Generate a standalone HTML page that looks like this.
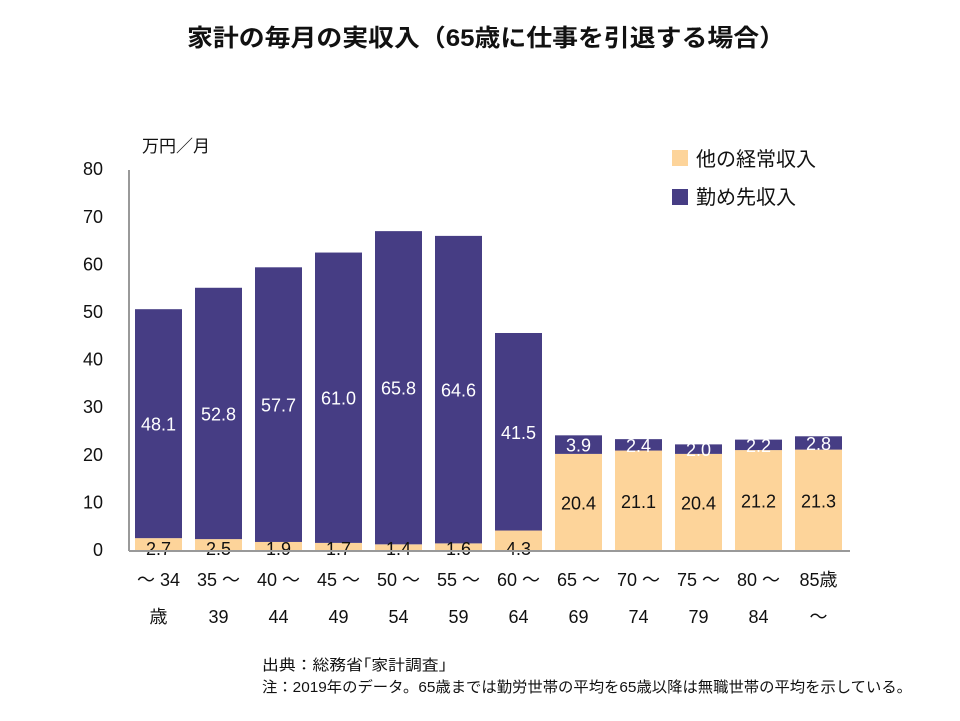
<!DOCTYPE html>
<html><head><meta charset="utf-8"><style>
body{margin:0;background:#fff;width:960px;height:721px;overflow:hidden;font-family:"Liberation Sans","Noto Sans CJK JP",sans-serif}
</style></head><body>
<svg width="960" height="721" style="position:absolute;left:0;top:0">
<text x="187" y="46" textLength="598" lengthAdjust="spacingAndGlyphs" font-size="24" font-weight="bold" fill="#111" font-family="Liberation Sans,Noto Sans CJK JP,sans-serif">家計の毎月の実収入（65歳に仕事を引退する場合）</text>
<text x="142" y="152" font-size="17" fill="#111" font-family="Liberation Sans,Noto Sans CJK JP,sans-serif">万円／月</text>
<rect x="672" y="150" width="16" height="16" fill="#fdd49a"/>
<text x="696" y="166" font-size="20" fill="#111" font-family="Liberation Sans,Noto Sans CJK JP,sans-serif">他の経常収入</text>
<rect x="672" y="189" width="16" height="16" fill="#463d84"/>
<text x="696" y="204" font-size="20" fill="#111" font-family="Liberation Sans,Noto Sans CJK JP,sans-serif">勤め先収入</text>
<g id="ticks"></g><g id="bars"></g><g id="xl"></g>
<line x1="129" y1="170" x2="129" y2="551" stroke="#999" stroke-width="2"/>
<line x1="129" y1="551" x2="850" y2="551" stroke="#999" stroke-width="2"/>
<text x="262" y="670" textLength="185" lengthAdjust="spacingAndGlyphs" font-size="15" fill="#111" font-family="Liberation Sans,Noto Sans CJK JP,sans-serif">出典：総務省｢家計調査｣</text>
<text x="262" y="692" textLength="650" lengthAdjust="spacingAndGlyphs" font-size="15" fill="#111" font-family="Liberation Sans,Noto Sans CJK JP,sans-serif">注：2019年のデータ。65歳までは勤労世帯の平均を65歳以降は無職世帯の平均を示している。</text>
</svg>
<script>
const categoriesTop=["～ 34","35 ～","40 ～","45 ～","50 ～","55 ～","60 ～","65 ～","70 ～","75 ～","80 ～","85歳"];
const categoriesBottom=["歳","39","44","49","54","59","64","69","74","79","84","～"];
const otherIncome=[2.7,2.5,1.9,1.7,1.4,1.6,4.3,20.4,21.1,20.4,21.2,21.3];
const workIncome=[48.1,52.8,57.7,61.0,65.8,64.6,41.5,3.9,2.4,2.0,2.2,2.8];
const yTicks=[0,10,20,30,40,50,60,70,80];
const NS="http://www.w3.org/2000/svg";
const FF="Liberation Sans,Noto Sans CJK JP,sans-serif";
const y=v=>551-v*4.76, x=i=>135+i*60, W=47;
function mk(tag,attrs,parent,txt){const e=document.createElementNS(NS,tag);for(const k in attrs)e.setAttribute(k,attrs[k]);if(txt!==undefined)e.textContent=txt;document.getElementById(parent).appendChild(e);return e;}
yTicks.forEach(t=>{
 const e=mk("text",{x:103,y:y(t)+5,"text-anchor":"end","font-size":18,fill:"#111","font-family":FF},"ticks",t);
 
 
});
otherIncome.forEach((o,i)=>{
 const w=workIncome[i];
 const r1=mk("rect",{x:x(i),y:y(o),width:W,height:y(0)-y(o),fill:"#fdd49a"},"bars");
 
 
 const r2=mk("rect",{x:x(i),y:y(o+w),width:W,height:y(o)-y(o+w),fill:"#463d84"},"bars");
 
 
 const ly=o<8?555:(y(0)+y(o))/2+7;
 const t1=mk("text",{x:x(i)+W/2,y:ly,"text-anchor":"middle","font-size":18,fill:"#111","font-family":FF},"bars",o.toFixed(1));
 
 
 const t2=mk("text",{x:x(i)+W/2,y:(y(o)+y(o+w))/2+7,"text-anchor":"middle","font-size":18,fill:"#fff","font-family":FF},"bars",w.toFixed(1));
 
 
 const a=mk("text",{x:x(i)+W/2,y:586,"text-anchor":"middle","font-size":18,fill:"#111","font-family":FF},"xl",categoriesTop[i]);
 
 
 const b=mk("text",{x:x(i)+W/2,y:623,"text-anchor":"middle","font-size":18,fill:"#111","font-family":FF},"xl",categoriesBottom[i]);
 
 
});
</script>
</body></html>
